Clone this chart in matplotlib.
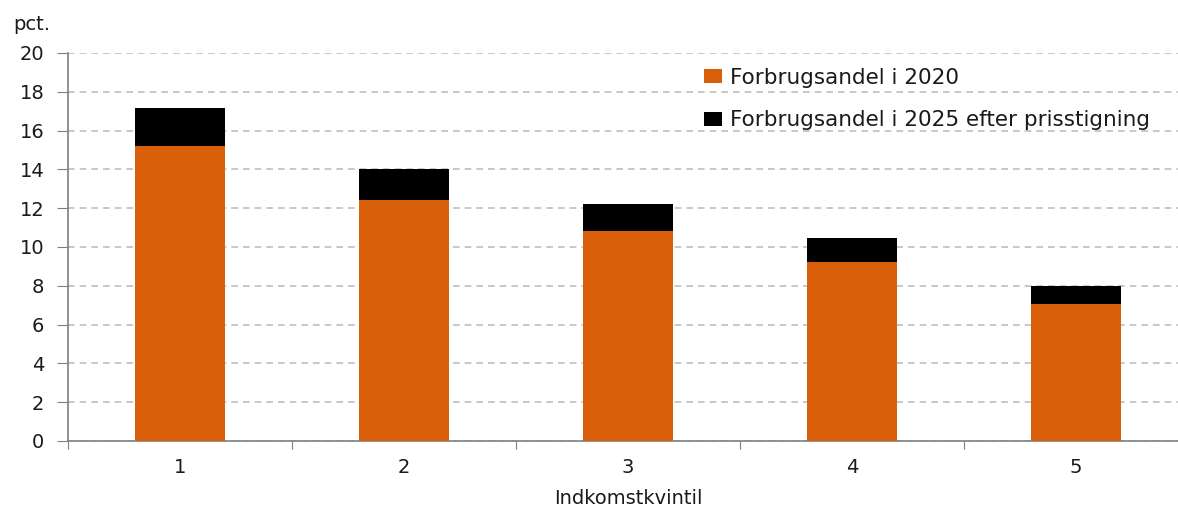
import matplotlib.pyplot as plt
import numpy as np

plt.rcParams['font.family'] = ['DejaVu Sans']

# Data
kvintiler = ['1', '2', '3', '4', '5']
andel_2020 = [15.2, 12.4, 10.8, 9.25, 7.05]
andel_2025 = [17.15, 14.0, 12.2, 10.45, 8.0]

orange = '#D95F0A'
grid_farve = '#BFBFBF'
tekst_farve = '#1A1A1A'

x = np.arange(len(kvintiler))
stigning = np.array(andel_2025) - np.array(andel_2020)

fig = plt.figure(figsize=(11.78, 5.07), dpi=100)
ax = fig.add_axes([68 / 1178, 66 / 507, 1120 / 1178, 388 / 507])

ax.bar(x, andel_2020, width=0.4, color=orange, label='Forbrugsandel i 2020', zorder=3)
ax.bar(x, stigning, width=0.4, bottom=andel_2020, color='black',
       label='Forbrugsandel i 2025 efter prisstigning', zorder=3)

ax.set_xlim(-0.5, 4.5)
ax.set_ylim(0, 20)
ax.set_yticks(range(0, 21, 2))
ax.yaxis.grid(True, linestyle=(0, (4, 3)), color=grid_farve, linewidth=1.2)
ax.set_axisbelow(True)

# kategori-ticks mellem søjlerne, labels i midten
ax.set_xticks(np.arange(-0.5, 5, 1))
ax.set_xticklabels([])
ax.set_xticks(x, minor=True)
ax.set_xticklabels(kvintiler, minor=True)
ax.tick_params(axis='x', which='major', length=6, color='#808080', direction='out')
ax.tick_params(axis='x', which='minor', length=0, pad=12, labelsize=14, labelcolor=tekst_farve)
ax.tick_params(axis='y', length=8, color='#808080', labelsize=14, pad=9, labelcolor=tekst_farve)

for s in ['top', 'right']:
    ax.spines[s].set_visible(False)
for s in ['left', 'bottom']:
    ax.spines[s].set_color('#808080')
    ax.spines[s].set_linewidth(1.2)

ax.set_xlabel('Indkomstkvintil', fontsize=14, labelpad=9, color=tekst_farve)
fig.text(13 / 1178, 1 - 24 / 507, 'pct.', fontsize=14, va='center', ha='left', color=tekst_farve)

leg = ax.legend(loc='upper left', bbox_to_anchor=(0.551, 1.012), frameon=False, fontsize=15.5,
                handlelength=0.8, handleheight=0.65, handletextpad=0.4, labelspacing=1.05)
for t in leg.get_texts():
    t.set_color(tekst_farve)

plt.savefig('out.png', dpi=100)
